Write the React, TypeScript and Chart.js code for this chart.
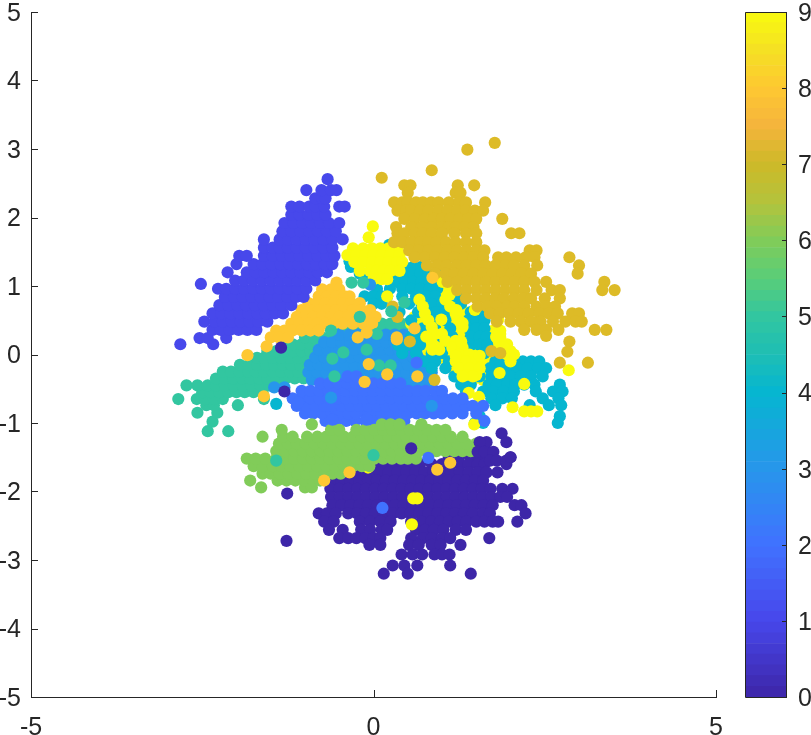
import React, { useEffect, useRef } from "react";
import { Chart, registerables } from "chart.js";
Chart.register(...registerables);

type Rows = number[][]; // each row: [y, x, x, x ...]

const xTicks = [-5, 0, 5];
const yTicks = [-5, -4, -3, -2, -1, 0, 1, 2, 3, 4, 5];
const barTicks = [0, 1, 2, 3, 4, 5, 6, 7, 8, 9];
const classColors = ["#3d26a8", "#4748eb", "#4072ff", "#2796eb", "#06b6d0", "#32c6a0", "#81cc59", "#ddbb27", "#fec832", "#f9fb0e"];
const barAnchors: [number, number[]][] = [
  [0, [61, 38, 168]], [1, [71, 71, 235]], [2, [64, 114, 255]], [3, [39, 150, 235]], [4, [6, 182, 208]],
  [4.5, [30, 190, 180]], [5, [50, 198, 160]], [5.5, [90, 205, 120]], [6, [129, 204, 89]], [6.5, [180, 195, 60]],
  [7, [205, 185, 40]], [7.5, [245, 180, 60]], [8, [254, 200, 50]], [8.5, [245, 225, 35]], [9, [249, 251, 14]],
];

const class0Rows: Rows = [
  [-1.42, 1.15, 1.3, 1.52, 1.65],
  [-1.5, .05, .2, .35, 1.1, 1.25, 1.42, 1.55, 2.0],
  [-1.6, -.35, -.22, -.1, .03, .16, .29, .42, .55, .68, .85, 1.0, 1.13, 1.26, 1.39, 1.52, 1.62, 1.94],
  [-1.72, -.55, -.42, -.3, -.17, -.04, .09, .22, .35, .48, .61, .74, .87, 1.0, 1.13, 1.26, 1.39, 1.52, 1.65, 1.81],
  [-1.84, -.6, -.47, -.34, -.21, -.08, .05, .18, .31, .44, .57, .7, .83, .96, 1.09, 1.22, 1.35, 1.48, 1.6],
  [-1.96, -.63, -.5, -.37, -.24, -.11, .02, .15, .28, .41, .54, .67, .8, .93, 1.06, 1.19, 1.32, 1.45, 1.58, 1.71, 1.88, 2.03],
  [-2.08, -.62, -.49, -.36, -.23, -.1, .03, .16, .29, .42, .55, .68, .81, .94, 1.07, 1.2, 1.33, 1.46, 1.59, 1.72, 1.85, 1.95],
  [-2.2, -.6, -.47, -.34, -.21, -.08, .05, .18, .31, .44, .57, .7, .83, .96, 1.09, 1.22, 1.35, 1.48, 1.61, 1.74, 2.06, 2.16],
  [-2.32, -.8, -.68, -.55, -.37, -.24, -.11, .02, .15, .28, .41, .54, .67, .8, .93, 1.06, 1.19, 1.32, 1.45, 1.6, 1.7, 2.22],
  [-2.44, -.72, -.58, -.2, -.05, .1, .25, .55, .7, .84, .97, 1.1, 1.23, 1.36, 1.5, 1.62, 1.74, 1.82, 2.1],
  [-2.56, -.65, -.45, -.18, -.05, .12, .2, .62, .75, .88, 1.02, 1.2, 1.35],
  [-2.68, -.5, -.37, -.25, -.12, .0, .1, .55, .72, .85, 1.0, 1.12, 1.69],
  [-2.78, -.06, .1, .52, .66, .85, .98, 1.27],
  [-2.92, .41, .57, .71, .89, 1.0, 1.11],
  [-3.08, .28, .45, .64, 1.12],
  [-3.2, .15, .5, 1.42],
];
const class1Rows: Rows = [
  [.15, -2.82, -2.34],
  [.24, -2.54, -2.42, -2.15],
  [.36, -2.35, -2.23, -2.1, -1.97, -1.84, -1.71],
  [.48, -2.47, -2.32, -2.2, -2.07, -1.94, -1.81, -1.68, -1.55],
  [.6, -2.35, -2.22, -2.09, -1.96, -1.83, -1.7, -1.57, -1.44, -1.32],
  [.72, -2.25, -2.12, -1.99, -1.86, -1.73, -1.6, -1.47, -1.34, -1.2],
  [.84, -2.17, -2.04, -1.91, -1.78, -1.65, -1.52, -1.39, -1.26, -1.13, -1.02],
  [.96, -2.27, -2.15, -2.02, -1.89, -1.76, -1.63, -1.5, -1.37, -1.24, -1.11, -.98],
  [1.03, -2.52],
  [1.08, -2.02, -1.89, -1.76, -1.63, -1.5, -1.37, -1.24, -1.11, -.98, -.85],
  [1.2, -2.13, -1.85, -1.72, -1.59, -1.46, -1.33, -1.2, -1.07, -.94, -.81, -.68],
  [1.32, -2.0, -1.75, -1.62, -1.49, -1.36, -1.23, -1.1, -.97, -.84, -.71, -.6],
  [1.44, -1.96, -1.85, -1.6, -1.47, -1.34, -1.21, -1.08, -.95, -.82, -.69, -.57],
  [1.56, -1.6, -1.47, -1.37, -1.25, -1.12, -.99, -.86, -.73, -.6],
  [1.68, -1.6, -1.37, -1.25, -1.12, -.99, -.86, -.73, -.6, -.45],
  [1.8, -1.33, -1.2, -1.07, -.94, -.81, -.68, -.55],
  [1.92, -1.3, -1.17, -1.04, -.91, -.78, -.65, -.5],
  [2.04, -1.2, -1.08, -.95, -.82, -.7],
  [2.16, -1.2, -1.08, -.94, -.85, -.72, -.5, -.42],
  [2.28, -.85, -.75, -.7],
  [2.4, -.98, -.76, -.62, -.54],
  [2.56, -.67],
];
const class2Rows: Rows = [
  [-.97, -.7, -.55, -.4, -.27, -.12, 0, .15, .3, .45, 1.62],
  [-.86, -1.0, -.88, -.75, -.62, -.5, -.37, -.25, -.12, 0, .12, .25, .38, .5, .63, .75, .88, 1.0, 1.15, 1.3, 1.5],
  [-.75, -1.12, -.98, -.85, -.72, -.6, -.47, -.34, -.21, -.08, .05, .18, .31, .44, .57, .7, .83, .96, 1.09, 1.22, 1.35, 1.45, 1.6],
  [-.64, -1.18, -1.05, -.92, -.79, -.66, -.53, -.4, -.27, -.14, -.01, .12, .25, .38, .51, .64, .77, .9, 1.03, 1.16, 1.3],
  [-.53, -1.05, -.92, -.79, -.66, -.53, -.4, -.27, -.14, -.01, .12, .25, .38, .51, .64, .76, .9, 1.0],
  [-.42, -.78, -.65, -.52, -.39, -.26, -.13, 0, .13, .26, .39],
  [-.32, -.38, -.25],
];
const class3Rows: Rows = [
  [-.48, -1.45, -1.3, .45, .6, .72, .83],
  [-.37, -.9, -.78, -.65, -.52, -.4, -.28, -.15, -.02, .1, .25, .4, .55, .7, .82],
  [-.26, -.95, -.82, -.69, -.56, -.43, -.3, -.17, -.04, .09, .22, .35, .48, .61, .74, .85],
  [-.15, -.93, -.8, -.67, -.54, -.41, -.28, -.15, -.02, .11, .24, .37, .5, .63, .76],
  [-.04, -.85, -.72, -.59, -.46, -.33, -.2, -.07, .06, .19, .32, .45, .58, .7],
  [.07, -.8, -.67, -.54, -.41, -.28, -.15, -.02, .11, .24, .37, .5, .63],
  [.18, -.72, -.6, -.47, -.34, -.21, -.08, .05, .18, .31, .44, .55],
  [.29, -.5, -.35, -.22, -.08, .05, .18, .31, .44],
];
const class4Rows: Rows = [
  [1.6, .23],
  [1.36, -.35, .25],
  [1.28, -.33, -.25, .45, .58, .7],
  [1.18, -.2, -.1, .32, .44, .56, .68, .8, .92],
  [1.06, .34, .46, .58, .7, .82, .9],
  [.96, .05, .24, .42, .55, .68, .82, .93],
  [.85, -.13, -.01, .12, .2, .42, .62, .78, .9, 1.25],
  [.74, .0, .12, .52, .7, .85, 1.0, 1.15, 1.28],
  [.62, .38, .65, .78, .92, 1.05, 1.18, 1.42, 1.55],
  [.5, .55, .85, 1.05, 1.38, 1.5, 1.62],
  [.38, .72, .9, 1.12, 1.38, 1.5, 1.62],
  [.26, .55, .65, 1.0, 1.15, 1.42, 1.55, 1.65],
  [.14, .36, .5, .68, 1.1, 1.42, 1.55, 1.66],
  [.02, .42, .62, .85, 1.0, 1.62],
  [-.1, .75, .9, 1.1, 1.28, 1.78, 1.92, 2.05, 2.18, 2.3, 2.42],
  [-.2, .85, 1.05, 1.3, 1.5, 1.7, 1.84, 1.98, 2.1, 2.25, 2.4, 2.52],
  [-.32, 1.18, 1.4, 1.55, 1.72, 1.88, 2.0, 2.15, 2.3, 2.47],
  [-.44, 1.28, 1.42, 1.68, 1.8, 1.95, 2.07, 2.2, 2.35, 2.72],
  [-.54, 1.35, 1.6, 1.75, 1.9, 2.05, 2.37, 2.62, 2.76],
  [-.64, 1.72, 1.88, 2.02, 2.47, 2.7],
  [-.74, 1.78, 2.28, 2.56, 2.74],
  [-.9, 1.55, 2.72],
  [-1.0, 1.6, 1.48, 2.69],
  [-.72, -1.42],
];
const class5Rows: Rows = [
  [-1.12, -2.42, -2.12],
  [-.98, -2.35],
  [-.85, -2.57, -2.28],
  [-.74, -2.44, -2.33, -1.98],
  [-.65, -2.85, -2.58, -2.46, -2.33, -2.2, -1.6],
  [-.55, -2.5, -2.38, -2.25, -2.12, -2.0, -1.88, -1.75, -1.62],
  [-.45, -2.73, -2.57, -2.42, -2.3, -2.17, -2.04, -1.91, -1.78, -1.65, -1.52, -1.4],
  [-.35, -2.3, -2.17, -2.05, -1.92, -1.8, -1.67, -1.55, -1.42, -1.28, -1.15, -1.02],
  [-.25, -2.2, -2.08, -1.96, -1.83, -1.72, -1.6, -1.47, -1.35, -1.22, -1.1, -.98, -.85],
  [-.15, -1.95, -1.82, -1.7, -1.57, -1.45, -1.32, -1.2, -1.07, -.95, -.82, -.7],
  [-.05, -1.7, -1.6, -1.47, -1.35, -1.22, -1.1, -.97, -.85, -.72, -.6],
  [.05, -1.55, -1.42, -1.3, -1.17, -1.05, -.92, -.8, -.67, -.55, -.42],
  [.15, -1.3, -1.18, -1.05, -.92, -.8, -.67, -.55, -.42, -.3],
  [.25, -1.0, -.87, -.75, -.62, -.5, -.38, -.25, -.12],
  [.35, -.6, -.48, -.35, -.22, -.1, .05, .18, .3, .42],
  [.45, -.35, .0, .12, .25, .4, .5],
];
const class6Rows: Rows = [
  [-1.94, -1.64, -1.0, -.9],
  [-1.84, -1.8, -1.4, -1.27, -1.14, -1.01, -.88, -.78],
  [-1.74, -1.62, -1.5, -1.37, -1.24, -1.11, -.98, -.85, -.72, -.6, -.48],
  [-1.63, -1.75, -1.62, -1.47, -1.34, -1.21, -1.08, -.95, -.82, -.69, -.56, -.43, -.3, -.17, -.06],
  [-1.52, -1.85, -1.72, -1.58, -1.42, -1.29, -1.16, -1.03, -.9, -.77, -.64, -.51, -.38, -.25, -.12, .01, .14, .27, .4, .5, .62],
  [-1.41, -1.42, -1.29, -1.16, -1.03, -.9, -.77, -.64, -.51, -.38, -.25, -.12, .01, .14, .27, .4, .53, .66, .79, .92, 1.05, 1.18, 1.3, 1.42],
  [-1.3, -1.38, -1.25, -1.12, -.99, -.86, -.73, -.6, -.47, -.34, -.21, -.08, .05, .18, .31, .44, .57, .7, .83, .96, 1.09, 1.22, 1.35, 1.5],
  [-1.2, -1.62, -1.32, -1.18, -.97, -.82, -.69, -.56, -.43, -.3, -.17, -.04, .09, .22, .35, .48, .61, .74, .87, 1.0, 1.13, 1.3],
  [-1.1, -1.34, -.62, -.5, -.25, -.12, .01, .14, .27, .4, .53, .66, .79, .92, 1.05],
  [-1.02, -.9, .12, .25, .38, .7],
];
const class7Rows: Rows = [
  [3.09, 1.77], [2.99, 1.37], [2.69, .85], [2.58, .12],
  [2.47, .45, .54, 1.23, 1.47],
  [2.36, 1.2, 1.27, .5],
  [2.22, .3, .42, .5, .62, .72, .84, .95, 1.1, 1.25, 1.35, 1.63],
  [2.1, .35, .48, .55, .68, .8, .95, 1.08, 1.22, 1.35, 1.48, 1.6],
  [1.98, .45, .6, .75, .88, 1.0, 1.12, 1.25, 1.38, 1.5, 1.88],
  [1.86, .55, .7, .85, 1.0, 1.1, 1.2, 1.33, 1.46, .33],
  [1.77, .35, .45, .6, .72, .85, 1.0, 1.18, 1.35, 1.5, 2.01, 2.13],
  [1.64, .3, .42, .55, .68, .8, .92, 1.06, 1.2, 1.35, 1.5],
  [1.52, .52, .66, .8, .94, 1.08, 1.22, 1.36, 1.5, 1.62, 2.28, 2.38],
  [1.42, .6, .75, .9, 1.04, 1.18, 1.32, 1.46, 1.6, 1.82, 1.94, 2.08, 2.22, 2.35, 2.86],
  [1.3, .78, .93, 1.07, 1.22, 1.36, 1.5, 1.64, 1.78, 1.92, 2.05, 2.2, 2.39, 3.0],
  [1.18, .9, 1.05, 1.18, 1.32, 1.46, 1.6, 1.74, 1.88, 2.02, 2.16, 2.3, 2.98],
  [1.06, 1.08, 1.22, 1.36, 1.5, 1.64, 1.78, 1.92, 2.06, 2.2, 2.35, 2.52, 3.37],
  [.94, 1.22, 1.36, 1.5, 1.64, 1.78, 1.92, 2.06, 2.2, 2.38, 2.6, 2.72, 3.34, 3.52],
  [.82, 1.35, 1.5, 1.64, 1.78, 1.9, 2.05, 2.18, 2.3, 2.5, 2.72],
  [.7, 1.52, 1.66, 1.8, 1.95, 2.06, 2.2, 2.38, 2.52, 2.65],
  [.6, 1.7, 1.84, 1.98, 2.12, 2.26, 2.42, 2.56, 2.69, 2.9, 3.0],
  [.48, 1.8, 2.0, 2.15, 2.3, 2.44, 2.62, 2.8, 2.95, 3.04],
  [.36, 2.2, 2.38, 2.52, 2.7, 3.23, 3.4],
  [.27, 2.52],
  [.19, 2.86], [.04, 2.83],
  [-.12, 2.72, 3.13],
];
const class8Rows: Rows = [
  [1.05, -.54],
  [.95, -.75, -.62, -.5],
  [.85, -.8, -.68, -.55, -.42, -.35],
  [.75, -.95, -.83, -.7, -.58, -.45, -.33, -.2],
  [.65, -1.05, -.93, -.8, -.68, -.55, -.42, -.3, -.18, -.05],
  [.55, -1.12, -1, -.88, -.75, -.62, -.5, -.37, -.22, -.1, .03],
  [.45, -1.2, -1.08, -.95, -.82, -.7, -.58, -.45, -.3, -.15, -.02],
  [.35, -1.42, -1.3, -1.18, -1.05, -.92, -.8],
  [.25, -1.5, -1.38, -1.25],
];
const class8Strays: Rows = [
  [1.12, .86], [.38, .6], [.32, -.1], [.25, -.23, .34], [.22, .34], [.12, -1.56], [-.01, -1.84],
  [-.14, -.07], [-.29, .2], [-.32, .64], [-.4, -.13],
  [-.61, -1.6], [-1.58, 1.12], [-1.68, .93], [-1.72, -.35], [-1.84, -.72],
];
const class9Under: Rows = [
  [1.05, .95, 1.05],
  [.95, 1.0, 1.12],
  [.85, .95, 1.0, 1.12],
  [.75, .9, 1.05, 1.2],
  [.65, .85, 1.0, 1.15, 1.3, 1.48],
  [.55, .6, .75, .9, 1.05, 1.2, 1.35],
  [.45, .55, .7, .85, 1.0, 1.15, 1.3, 1.42],
  [.35, .65, .8, .95, 1.1, 1.25, 1.4, 1.75, 1.85],
  [.25, .7, .85, 1.0, 1.15, 1.3, 1.45, 1.7, 1.85],
  [.15, .8, .95, 1.1, 1.25, 1.4, 1.55, 1.7, 1.85, 1.95],
  [.05, .8, .95, 1.1, 1.25, 1.4, 1.55, 1.7, 1.85, 2.0],
  [-.05, 1.0, 1.15, 1.3, 1.45, 1.6, 1.75, 1.9, 2.0],
  [-.15, 1.1, 1.25, 1.4, 1.55, 1.7, 1.85],
  [-.27, 1.2, 1.35, 1.5, 1.65, 1.8],
  [-.37, 1.3, 1.45, 1.6],
];
const class9Rows: Rows = [
  [1.87, -.01], [1.71, -.07],
  [1.55, -.3, -.15, -.02, .1, .22, .35],
  [1.45, -.38, -.25, -.12, 0, .12, .25, .38],
  [1.35, -.28, -.15, -.02, .1, .22, .35, .42],
  [1.22, -.2, -.05, .05, .15, .25, .38],
  [1.1, .0, .12, .2],
  [1.06, 1.01], [.87, 1.11], [.85, .2],
  [.8, .67, 1.05], [.7, .72, 1.12], [.6, .75, 1.2], [.5, .8, 1.25], [.4, .85, 1.3],
  [.3, .9, 1.0, 1.85], [.2, 1.05, 1.2, 1.85], [.1, 1.15, 1.3, 1.9], [.0, 1.25, 1.4, 1.95, 2.05],
  [-.1, 1.2, 1.35, 1.5, 2.0], [-.2, 1.25, 1.4, 1.55], [-.3, 1.35, 1.5],
  [.65, 1.48, 1.21], [.51, .99, 1.82], [.46, 1.3],
  [.26, 1.79, .77], [.19, 1.28], [.07, .96, .86],
  [-.02, 1.2, 1.55, 1.99],
  [-.27, 1.84], [-.32, 1.45, 1.3], [-.43, 2.2], [-.23, 2.85],
  [-.56, 1.39], [-.62, 1.54], [-.77, 2.03], [-.83, 2.2, 2.3, 2.39], [-1.02, 1.47],
  [-2.1, .58, .64], [-2.48, .56], [-1.65, -.08],
];
const darkStrays: Rows = [
  [.1, -1.35], [-.54, -1.3], [-1.37, .55], [-2.03, -1.26], [-2.72, -1.27],
  [-1.15, 1.87], [-1.28, 1.94, 1.65, 1.55], [-1.42, 1.52, 1.62, 1.75], [-1.55, 1.7, 1.8, 1.94], [-1.5, 2.0],
];
const blueStrays: Rows = [[-2.24, .13], [-1.51, .8], [-.95, -.6, -.1], [-.7, -1.1], [-.12, .63]];
const tealStrays: Rows = [
  [1.05, -.32, -.15], [.76, .45], [.63, .26], [.55, -.2], [.07, -.1], [.03, -.44], [-.06, -.6],
  [-.16, .25, .08], [-.32, -.57], [-1.47, .0], [-1.55, -1.42], [.35, -.62], [.3, .05],
];
const goldStrays: Rows = [[.19, .53], [.55, .35], [.7, .28], [-.37, .89], [.05, 1.72], [.02, 1.85]];
const skyStrays: Rows = [[1.02, -.05], [-.63, -.62], [-.75, .85]];

const flatten = (rows: Rows) => rows.flatMap((r) => r.slice(1).map((x) => ({ x, y: r[0] })));

// top-most layer first
const layers: [Rows, number][] = [
  [darkStrays, 0], [blueStrays, 2], [class8Strays, 8], [tealStrays, 5], [skyStrays, 3], [goldStrays, 7],
  [class1Rows, 1], [class7Rows, 7], [class6Rows, 6], [class2Rows, 2], [class8Rows, 8],
  [class9Rows, 9], [class4Rows, 4], [class9Under, 9], [class3Rows, 3], [class5Rows, 5], [class0Rows, 0],
];

const ink = "#262626";
const font = { family: "'Liberation Sans', Arial, sans-serif", size: 25 };

const inwardTicks = {
  id: "inwardTicks",
  afterDatasetsDraw(chart: any) {
    const { ctx, scales, chartArea: a } = chart;
    ctx.save();
    ctx.strokeStyle = ink;
    ctx.lineWidth = 1;
    ctx.beginPath();
    if (chart.canvas.dataset.role === "bar") {
      barTicks.forEach((t) => {
        const p = Math.round(scales.y.getPixelForValue(t)) + 0.5;
        ctx.moveTo(a.right - 5, p);
        ctx.lineTo(a.right, p);
      });
      ctx.rect(a.left + 0.5, a.top + 0.5, a.right - a.left - 1, a.bottom - a.top);
    } else {
      xTicks.forEach((t) => {
        const p = Math.round(scales.x.getPixelForValue(t)) + 0.5;
        ctx.moveTo(p, a.bottom);
        ctx.lineTo(p, a.bottom - 7);
      });
      yTicks.forEach((t) => {
        const p = Math.round(scales.y.getPixelForValue(t)) + 0.5;
        ctx.moveTo(a.left, p);
        ctx.lineTo(a.left + 7, p);
      });
    }
    ctx.stroke();
    ctx.restore();
  },
};

const bandColor = (v: number) => {
  for (let i = 1; i < barAnchors.length; i++) {
    const [v0, c0] = barAnchors[i - 1];
    const [v1, c1] = barAnchors[i];
    if (v <= v1) {
      const t = (v - v0) / (v1 - v0);
      return `rgb(${c0.map((c, k) => Math.round(c + (c1[k] - c) * t)).join(",")})`;
    }
  }
  return "#f9fb0e";
};

export default function App() {
  const mainRef = useRef<HTMLCanvasElement>(null);
  const barRef = useRef<HTMLCanvasElement>(null);

  useEffect(() => {
    const main = new Chart(mainRef.current!, {
      type: "scatter",
      data: {
        datasets: layers.map(([rows, c]) => ({
          data: flatten(rows),
          backgroundColor: classColors[c],
          pointRadius: 6.1,
          pointBorderWidth: 0,
          clip: false,
        })),
      },
      options: {
        animation: false,
        responsive: false,
        layout: { padding: { left: 0, right: 24, top: 12, bottom: 0 } },
        plugins: { legend: { display: false }, tooltip: { enabled: false } },
        scales: {
          x: {
            type: "linear", min: -5, max: 5,
            afterBuildTicks: (s: any) => { s.ticks = xTicks.map((value) => ({ value })); },
            afterFit: (s: any) => { s.height = 38; s.paddingLeft = 0; s.paddingRight = 0; },
            grid: { display: false, tickLength: 0 },
            border: { color: ink, width: 1 },
            ticks: { color: ink, font, padding: 16, maxRotation: 0, autoSkip: false },
          },
          y: {
            type: "linear", min: -5, max: 5,
            afterBuildTicks: (s: any) => { s.ticks = yTicks.map((value) => ({ value })); },
            afterFit: (s: any) => { s.width = 31; s.paddingTop = 0; s.paddingBottom = 0; },
            grid: { display: false, tickLength: 0 },
            border: { color: ink, width: 1 },
            ticks: { color: ink, font, padding: 10, labelOffset: 2, autoSkip: false },
          },
        },
      },
      plugins: [inwardTicks],
    } as any);

    const bandCount = 64;
    const bandValues = Array.from({ length: bandCount }, () => 9 / bandCount);
    const bar = new Chart(barRef.current!, {
      type: "bar",
      data: {
        labels: ["colorbar"],
        datasets: bandValues.map((v, i) => ({
          data: [v],
          backgroundColor: bandColor((i + 0.5) * v),
          barPercentage: 1,
          categoryPercentage: 1,
          borderWidth: 0,
        })),
      },
      options: {
        animation: false,
        responsive: false,
        layout: { padding: { left: 5, right: 0, top: 12, bottom: 38 } },
        plugins: { legend: { display: false }, tooltip: { enabled: false } },
        scales: {
          x: { stacked: true, display: false },
          y: {
            stacked: true, position: "right", min: 0, max: 9,
            afterBuildTicks: (s: any) => { s.ticks = barTicks.map((value) => ({ value })); },
            afterFit: (s: any) => { s.width = 24; s.paddingTop = 0; s.paddingBottom = 0; },
            grid: { display: false, tickLength: 0 },
            border: { display: false },
            ticks: { color: ink, font, padding: 11, labelOffset: 2, autoSkip: false },
          },
        },
      },
      plugins: [inwardTicks],
    } as any);

    return () => {
      main.destroy();
      bar.destroy();
    };
  }, []);

  return (
    <div style={{ position: "absolute", left: 0, top: 0, width: 811, height: 735, overflow: "hidden", background: "#fff" }}>
      <canvas ref={mainRef} width={740} height={735} style={{ position: "absolute", left: 0, top: 0 }} />
      <canvas ref={barRef} data-role="bar" width={71} height={735} style={{ position: "absolute", left: 740, top: 0 }} />
    </div>
  );
}
